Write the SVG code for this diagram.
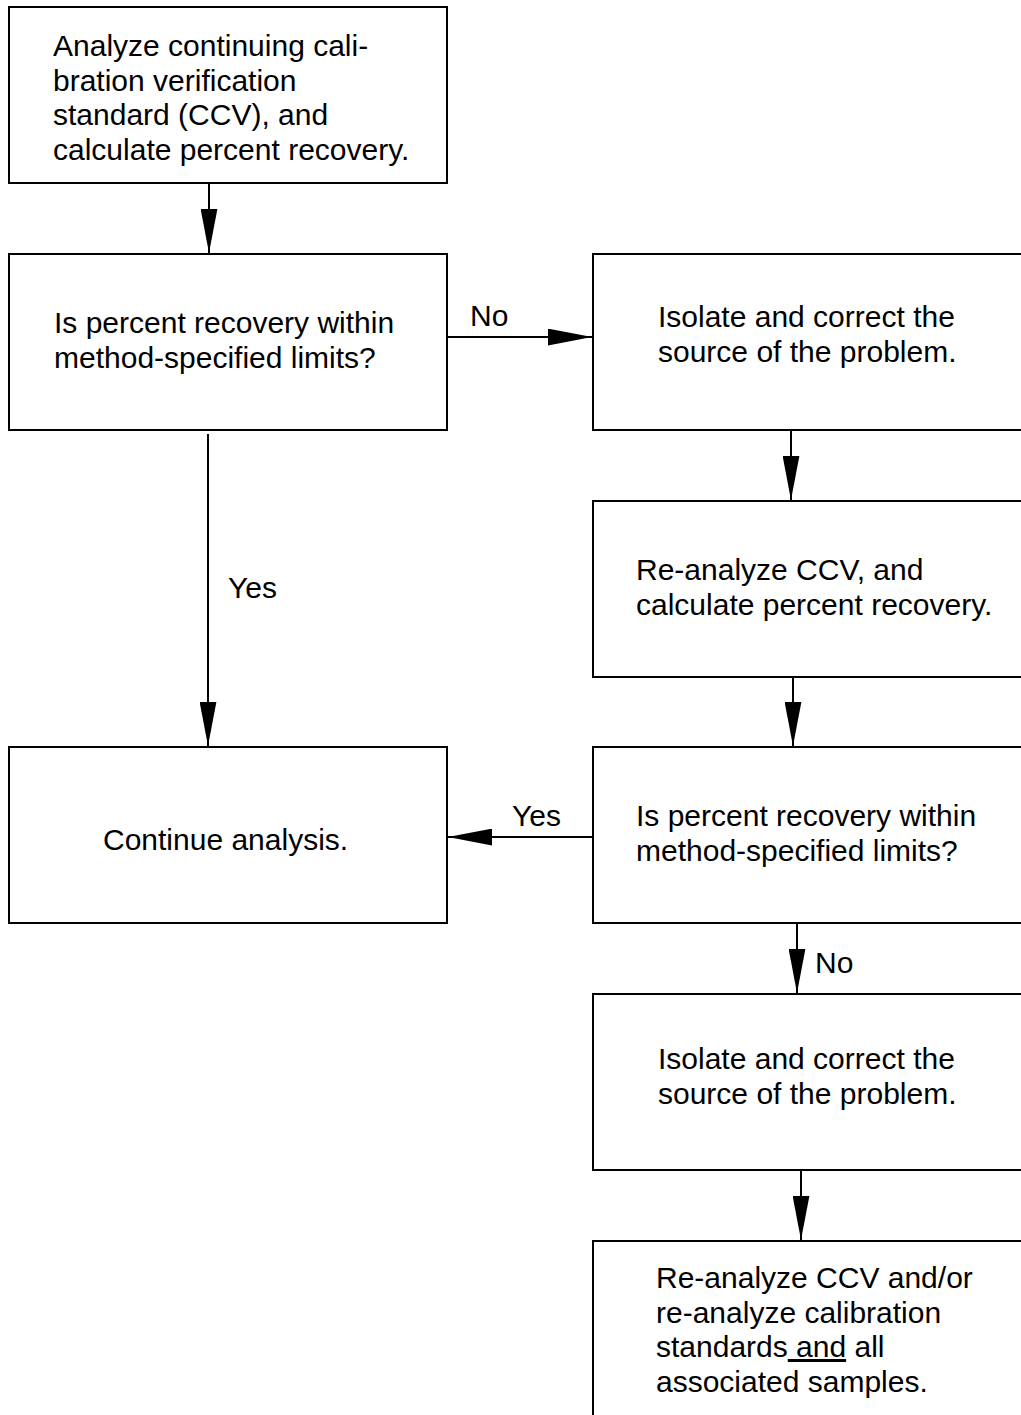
<svg xmlns="http://www.w3.org/2000/svg" width="1021" height="1415" viewBox="0 0 1021 1415">
<style>
.box{fill:#fff;stroke:#000;stroke-width:2}
.t{font-family:"Liberation Sans",Arial,sans-serif;font-size:30px;fill:#000}
.c{stroke:#000;stroke-width:2;fill:none;marker-end:url(#ah)}
</style>
<defs>
<marker id="ah" markerUnits="userSpaceOnUse" markerWidth="44" markerHeight="17" refX="42" refY="8" orient="auto" viewBox="0 0 42 16">
<path d="M0,0 L42,8 L0,16 z" fill="#000"/>
</marker>
</defs>
<rect width="1021" height="1415" fill="#fff"/>
<g id="n1"><rect class="box" x="9" y="7" width="438" height="176"/>
<text class="t" x="53" y="56">Analyze continuing cali-</text>
<text class="t" x="53" y="90.5">bration verification</text>
<text class="t" x="53" y="125">standard (CCV), and</text>
<text class="t" x="53" y="159.5">calculate percent recovery.</text></g>
<g id="n2"><rect class="box" x="9" y="254" width="438" height="176"/>
<text class="t" x="54" y="333">Is percent recovery within</text>
<text class="t" x="54" y="367.5">method-specified limits?</text></g>
<g id="n3"><rect class="box" x="593" y="254" width="440" height="176"/>
<text class="t" x="658" y="327">Isolate and correct the</text>
<text class="t" x="658" y="361.5">source of the problem.</text></g>
<g id="n4"><rect class="box" x="593" y="501" width="440" height="176"/>
<text class="t" x="636" y="580">Re-analyze CCV, and</text>
<text class="t" x="636" y="614.5">calculate percent recovery.</text></g>
<g id="n5"><rect class="box" x="593" y="747" width="440" height="176"/>
<text class="t" x="636" y="826">Is percent recovery within</text>
<text class="t" x="636" y="860.5">method-specified limits?</text></g>
<g id="n6"><rect class="box" x="9" y="747" width="438" height="176"/>
<text class="t" x="103" y="850">Continue analysis.</text></g>
<g id="n7"><rect class="box" x="593" y="994" width="440" height="176"/>
<text class="t" x="658" y="1069">Isolate and correct the</text>
<text class="t" x="658" y="1103.5">source of the problem.</text></g>
<g id="n8"><rect class="box" x="593" y="1241" width="440" height="200"/>
<text class="t" x="656" y="1288">Re-analyze CCV and/or</text>
<text class="t" x="656" y="1322.5">re-analyze calibration</text>
<text class="t" x="656" y="1357">standards<tspan text-decoration="underline"> and</tspan> all</text>
<text class="t" x="656" y="1391.5">associated samples.</text></g>
<g id="connectors">
<line class="c" x1="209" y1="183" x2="209" y2="253"/>
<line class="c" x1="447" y1="337" x2="592" y2="337"/>
<text class="t" x="470" y="326">No</text>
<line class="c" x1="791" y1="430" x2="791" y2="500"/>
<line class="c" x1="793" y1="677" x2="793" y2="746"/>
<line class="c" x1="208" y1="434" x2="208" y2="746"/>
<text class="t" x="228" y="598">Yes</text>
<line class="c" x1="593" y1="837" x2="448" y2="837"/>
<text class="t" x="512" y="826">Yes</text>
<line class="c" x1="797" y1="923" x2="797" y2="993"/>
<text class="t" x="815" y="973">No</text>
<line class="c" x1="801" y1="1170" x2="801" y2="1240"/>
</g>
</svg>
